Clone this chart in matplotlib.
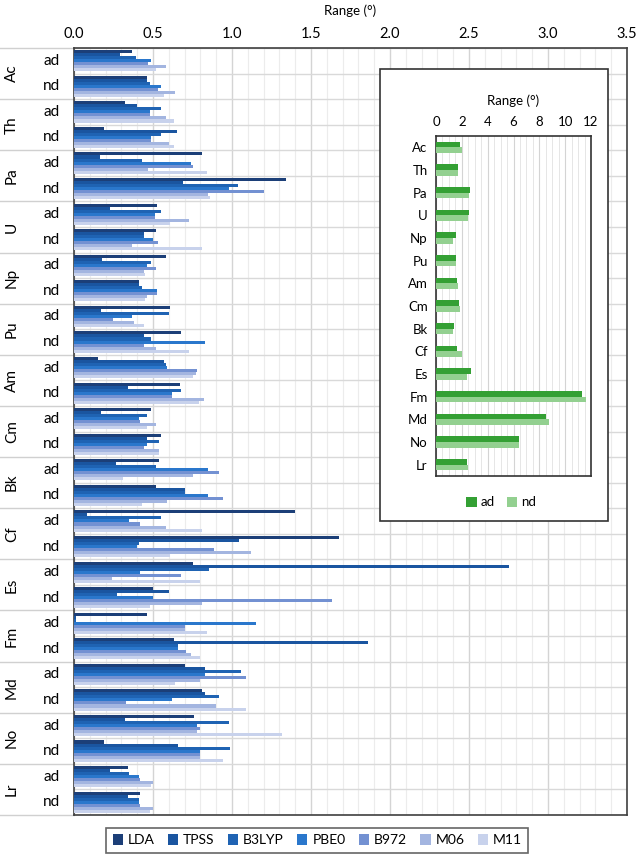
import numpy as np
import matplotlib
matplotlib.use("Agg")
import matplotlib.pyplot as plt
from matplotlib.patches import Rectangle
from matplotlib.transforms import blended_transform_factory

plt.rcParams['font.family'] = ['Lato', 'DejaVu Sans']

elements = ["Ac", "Th", "Pa", "U", "Np", "Pu", "Am", "Cm", "Bk", "Cf", "Es", "Fm", "Md", "No", "Lr"]
subs = ["ad", "nd"]
methods = ["LDA", "TPSS", "B3LYP", "PBE0", "B972", "M06", "M11"]

# values in order Ac ad, Ac nd, Th ad, Th nd, ...
lda = [0.37, 0.46, 0.32, 0.19, 0.81, 1.34, 0.525, 0.52, 0.58, 0.41, 0.605, 0.68, 0.15, 0.67, 0.49,
       0.55, 0.54, 0.52, 1.40, 1.68, 0.75, 0.50, 0.46, 0.63, 0.70, 0.81, 0.76, 0.19, 0.34, 0.415]
tpss = [0.29, 0.46, 0.40, 0.65, 0.165, 0.69, 0.23, 0.44, 0.175, 0.41, 0.17, 0.44, 0.57, 0.34, 0.17,
        0.46, 0.265, 0.70, 0.085, 1.045, 2.75, 0.60, 0.015, 1.86, 0.83, 0.83, 0.32, 0.66, 0.23, 0.34]
b3lyp = [0.39, 0.48, 0.55, 0.55, 0.43, 1.04, 0.55, 0.44, 0.49, 0.43, 0.60, 0.49, 0.58, 0.68, 0.465,
         0.54, 0.52, 0.70, 0.55, 0.41, 0.855, 0.27, 0.01, 0.66, 1.055, 0.92, 0.98, 0.99, 0.35, 0.41]
pbe0 = [0.49, 0.55, 0.48, 0.49, 0.74, 0.98, 0.51, 0.50, 0.46, 0.525, 0.37, 0.83, 0.59, 0.62, 0.41,
        0.46, 0.85, 0.85, 0.345, 0.40, 0.415, 0.50, 1.15, 0.66, 0.83, 0.62, 0.78, 0.795, 0.41, 0.41]
b972 = [0.47, 0.53, 0.48, 0.49, 0.75, 1.20, 0.515, 0.53, 0.52, 0.525, 0.245, 0.44, 0.78, 0.62, 0.42,
        0.445, 0.92, 0.94, 0.415, 0.885, 0.68, 1.63, 0.70, 0.71, 1.09, 0.33, 0.795, 0.80, 0.42, 0.42]
m06 = [0.58, 0.64, 0.58, 0.60, 0.47, 0.85, 0.73, 0.37, 0.44, 0.46, 0.38, 0.52, 0.77, 0.82, 0.52,
       0.54, 0.75, 0.59, 0.58, 1.12, 0.24, 0.81, 0.70, 0.74, 0.795, 0.90, 0.78, 0.80, 0.50, 0.50]
m11 = [0.52, 0.57, 0.63, 0.63, 0.84, 0.86, 0.61, 0.81, 0.45, 0.45, 0.44, 0.73, 0.75, 0.79, 0.465,
       0.54, 0.31, 0.43, 0.81, 0.61, 0.80, 0.48, 0.84, 0.80, 0.64, 1.09, 1.315, 0.945, 0.49, 0.48]
series = [lda, tpss, b3lyp, pbe0, b972, m06, m11]
colors = ["#1c3f78", "#1a55a0", "#1f63b3", "#2a77cc", "#7391d2", "#a3b5e0", "#c8d2ec"]

# inset: total range per element
inset_ad = [1.86, 1.68, 2.64, 2.56, 1.53, 1.53, 1.60, 1.76, 1.42, 1.60, 2.74, 11.33, 8.51, 6.46, 2.43]
inset_nd = [2.00, 1.68, 2.59, 2.48, 1.29, 1.53, 1.68, 1.86, 1.34, 2.02, 2.43, 11.61, 8.71, 6.46, 2.48]

W, H = 637, 861
fig = plt.figure(figsize=(W/100, H/100), dpi=100)

def fr(x0, y0, x1, y1):
    return [x0/W, 1-y1/H, (x1-x0)/W, (y1-y0)/H]

ax = fig.add_axes(fr(74, 48, 627, 815))
n = len(lda)
bh = 0.83/7
for k, (vals, c) in enumerate(zip(series, colors)):
    y = np.arange(n) + 0.085 + bh*(k+0.5)
    ax.barh(y, vals, height=bh, color=c, label=methods[k], zorder=3)

ax.set_ylim(n, 0)
ax.set_xlim(0, 3.5)
ax.xaxis.tick_top()
ax.set_xticks(np.arange(0, 3.51, 0.5))
ax.set_xticklabels(["%.1f" % v for v in np.arange(0, 3.51, 0.5)], fontsize=10.5)
ax.set_xticks(np.arange(0, 3.51, 0.1), minor=True)
ax.set_yticks(np.arange(0, n+1))
ax.set_yticklabels([])
ax.tick_params(axis='both', which='both', length=0, pad=5)
ax.grid(axis='x', which='minor', color='#ececec', lw=0.8, zorder=0)
ax.grid(axis='x', which='major', color='#d4d4d4', lw=1.0, zorder=0)
ax.grid(axis='y', which='major', color='#d9d9d9', lw=1.0, zorder=0)
for s in ax.spines.values():
    s.set_color('#404040')
    s.set_linewidth(1.2)
ax.set_xlabel("Range (°)", fontsize=9.5, labelpad=9)
ax.xaxis.set_label_position('top')

# category labels on the left
tr = blended_transform_factory(ax.transAxes, ax.transData)
for i in range(n):
    ax.text(-0.025, i + 0.5, subs[i % 2], transform=tr, ha='right', va='center', fontsize=11)
for j, el in enumerate(elements):
    ax.text(-0.112, 2*j + 1, el, transform=tr, ha='center', va='center', rotation=90, fontsize=11)
for j in range(len(elements) + 1):
    ax.plot([-74/553, 0], [2*j, 2*j], transform=tr, color='#d0d0d0', lw=1.0, clip_on=False)

leg = ax.legend(loc='upper center', bbox_to_anchor=(0.44, -0.008), ncol=7, fontsize=10,
                frameon=True, fancybox=False, edgecolor='#404040', handlelength=0.75,
                handleheight=0.75, handletextpad=0.35, columnspacing=0.95, borderpad=0.45)
leg.get_frame().set_linewidth(1.2)

# inset box
fig.patches.append(Rectangle((380/W, 1-521/H), 228/W, 452/H, transform=fig.transFigure,
                             facecolor='white', edgecolor='#333333', lw=1.2, zorder=5))

iax = fig.add_axes(fr(436, 136, 591, 476))
iax.set_zorder(6)
yi = np.arange(len(elements))
ibh = 0.25
iax.barh(yi - ibh/2, inset_ad, height=ibh, color='#34a034', label='ad', zorder=3)
iax.barh(yi + ibh/2, inset_nd, height=ibh, color='#93d090', label='nd', zorder=3)
iax.set_ylim(len(elements) - 0.5, -0.5)
iax.set_xlim(0, 12)
iax.xaxis.tick_top()
iax.set_xticks(np.arange(0, 12.1, 2))
iax.set_xticks(np.arange(0, 12.1, 0.5), minor=True)
iax.set_yticks(yi)
iax.set_yticklabels(elements, fontsize=9.5)
iax.tick_params(axis='x', labelsize=9.5)
iax.tick_params(axis='both', which='both', length=0, pad=6)
iax.grid(axis='x', which='minor', color='#e6e6e6', lw=0.7, zorder=0)
iax.grid(axis='x', which='major', color='#d4d4d4', lw=0.8, zorder=0)
for s in iax.spines.values():
    s.set_color('#333333')
    s.set_linewidth(1.2)
iax.set_xlabel("Range (°)", fontsize=9.5, labelpad=8)
iax.xaxis.set_label_position('top')
ileg = iax.legend(loc='upper center', bbox_to_anchor=(0.42, -0.025), ncol=2, fontsize=9.5,
                  frameon=False, handlelength=0.8, handleheight=0.8, handletextpad=0.3,
                  columnspacing=0.9)

fig.savefig("out.png", dpi=100)
